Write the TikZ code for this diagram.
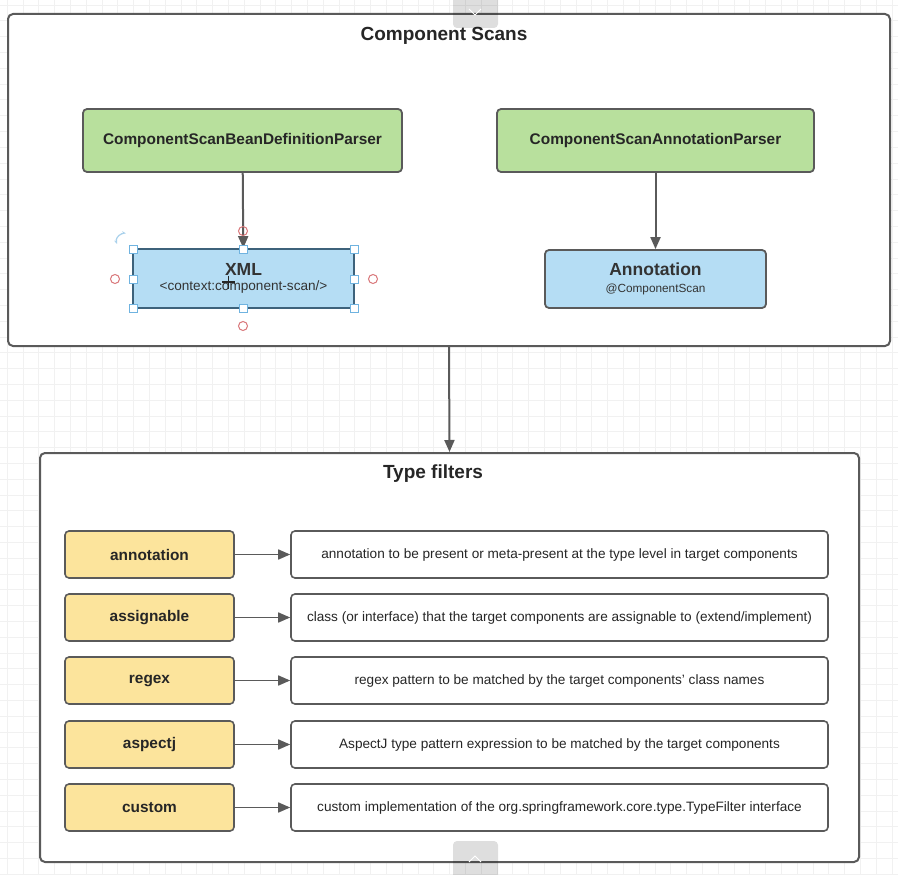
\documentclass[tikz,border=0pt]{standalone}
\usepackage{fontspec}
\setmainfont{Liberation Sans}
\usetikzlibrary{arrows.meta}
\definecolor{edge}{HTML}{5A5A5A}
\definecolor{greenfill}{HTML}{B8E09D}
\definecolor{bluefill}{HTML}{B5DDF4}
\definecolor{yellowfill}{HTML}{FCE49C}
\definecolor{selblue}{HTML}{6FB3E0}
\definecolor{handlered}{HTML}{D9777A}
\definecolor{gridcol}{HTML}{F1F1F1}
\tikzset{
  container/.style={draw=edge, line width=2pt, rounded corners=5pt, fill=white, inner sep=0pt},
  title/.style={font=\bfseries\fontsize{19}{22}\selectfont, text=black!85},
  parser/.style={draw=edge, line width=1.8pt, rounded corners=4pt, fill=greenfill, inner sep=0pt,
    font=\bfseries\fontsize{15.4}{18}\selectfont, text=black!85},
  scanbox/.style={draw=edge, line width=1.8pt, rounded corners=4pt, fill=bluefill, inner sep=0pt,
    align=center, text=black!80},
  filterbox/.style={draw=edge, line width=1.6pt, rounded corners=4pt, fill=yellowfill, inner sep=0pt,
    minimum width=169pt, minimum height=47pt, font=\bfseries\fontsize{15.4}{18}\selectfont, text=black!85},
  descbox/.style={draw=edge, line width=1.6pt, rounded corners=4pt, fill=white, inner sep=0pt,
    minimum width=537pt, minimum height=47pt, font=\fontsize{13.6}{16}\selectfont, text=black!85},
  link/.style={draw=edge, line width=2pt, -{Triangle[length=12pt,width=10pt]}},
  handle/.style={draw=selblue, fill=white, line width=1pt, minimum size=8pt, inner sep=0pt},
  anchorpt/.style={draw=handlered, line width=1pt, circle, minimum size=9pt, inner sep=0pt},
}
\begin{document}
\begin{tikzpicture}[x=1pt, y=-1pt]
\useasboundingbox (0,0) rectangle (898,875);
\fill[white] (0,0) rectangle (898,875);
% faint canvas grid
\foreach \gx in {7,22.8,...,898} \draw[gridcol, line width=0.6pt] (\gx,0) -- (\gx,875);
\foreach \gy in {5,20.8,...,875} \draw[gridcol, line width=0.6pt] (0,\gy) -- (898,\gy);

% containers
\node[container, minimum width=882pt, minimum height=332pt] (scans) at (449,180) {};
\node[title] (scanstitle) at (444,36) {Component Scans};
\node[container, minimum width=819pt, minimum height=409pt] (filters) at (449.5,657.5) {};
\node[title] (filterstitle) at (433,474) {Type filters};

% parsers and their sources
\node[parser, minimum width=319pt, minimum height=63pt] (beanparser) at (242.5,140.5) {ComponentScanBeanDefinitionParser};
\node[parser, minimum width=317pt, minimum height=63pt] (annparser) at (655.5,140.5) {ComponentScanAnnotationParser};
\node[scanbox, draw=selblue!55!black, minimum width=221pt, minimum height=59pt] (xml) at (243.5,278.5)
  {{\bfseries\fontsize{17.5}{19}\selectfont XML}\\[3pt]{\fontsize{13.6}{15}\selectfont <context:component-scan/>}};
\node[scanbox, minimum width=221pt, minimum height=58pt] (annotation) at (655.5,279)
  {{\bfseries\fontsize{17.5}{19}\selectfont Annotation}\\[5pt]{\fontsize{11.8}{13}\selectfont @ComponentScan}};

\draw[link] (beanparser) -- (xml);
\draw[link] (annparser) -- (annotation);
\draw[link] (scans.south) -- (filters.north);

% selection handles around the XML box
\foreach \hx/\hy in {133/249,243/249,354/249,133/279,354/279,133/308,243/308,354/308}
  \node[handle] at (\hx,\hy) {};
\node[anchorpt] (ptn) at (243,231) {};
\node[anchorpt] (ptw) at (115,279) {};
\node[anchorpt] (pte) at (373,279) {};
\node[anchorpt] (pts) at (243,326) {};
\draw[selblue!60, line width=1.2pt, {Stealth[length=4pt]}-{Stealth[length=4pt]}] (117,244) arc[start angle=200, end angle=80, radius=8pt];
% move cursor
\draw[black!85, line width=1.3pt] (222,282) -- (235,282) (228.5,275.5) -- (228.5,288.5);

% type filters
\foreach \name/\label/\desc/\yy in {
  annotation/annotation/{annotation to be present or meta-present at the type level in target components}/554.5,
  assignable/assignable/{class (or interface) that the target components are assignable to (extend/implement)}/617.5,
  regex/regex/{regex pattern to be matched by the target components' class names}/680.5,
  aspectj/aspectj/{AspectJ type pattern expression to be matched by the target components}/744.5,
  custom/custom/{custom implementation of the org.springframework.core.type.TypeFilter interface}/807.5}{
  \node[filterbox] (f-\name) at (149.5,\yy) {\label};
  \node[descbox] (d-\name) at (559.5,\yy) {\desc};
  \draw[link, line width=1.6pt] (f-\name) -- (d-\name);
}

% editor tabs at the top and bottom edges
\fill[black, fill opacity=0.13, rounded corners=4pt] (453,-6) rectangle (498,28);
\draw[white, line width=1pt] (469,9) -- (475,15) -- (481,9);
\fill[black, fill opacity=0.13, rounded corners=4pt] (453,841) rectangle (498,881);
\draw[white, line width=1pt] (469,862) -- (475,856) -- (481,862);
\end{tikzpicture}
\end{document}
